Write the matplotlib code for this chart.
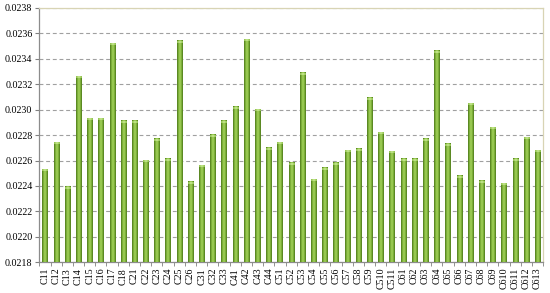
import numpy as np
import matplotlib
matplotlib.use('Agg')
import matplotlib.pyplot as plt
from matplotlib.colors import LinearSegmentedColormap

plt.rcParams['font.family'] = ['Liberation Serif', 'DejaVu Serif']

# categories and values
labels = ['C11', 'C12', 'C13', 'C14', 'C15', 'C16', 'C17', 'C18',
          'C21', 'C22', 'C23', 'C24', 'C25', 'C26',
          'C31', 'C32', 'C33',
          'C41', 'C42', 'C43', 'C44',
          'C51', 'C52', 'C53', 'C54', 'C55', 'C56', 'C57', 'C58', 'C59', 'C510', 'C511',
          'C61', 'C62', 'C63', 'C64', 'C65', 'C66', 'C67', 'C68', 'C69', 'C610', 'C611', 'C612', 'C613']
values = [0.02253, 0.02274, 0.02239, 0.02326, 0.02293, 0.02293, 0.02352, 0.02291,
          0.02291, 0.02260, 0.02277, 0.02261, 0.02354, 0.02243,
          0.02256, 0.02280, 0.02291,
          0.02302, 0.02355, 0.02300, 0.02270,
          0.02274, 0.02258, 0.02329, 0.02245, 0.02254, 0.02258, 0.02268, 0.02269, 0.02309, 0.02282, 0.02267,
          0.02261, 0.02261, 0.02277, 0.02346, 0.02273, 0.02248, 0.02305, 0.02244, 0.02286, 0.02242, 0.02261, 0.02278, 0.02268]
ymin, ymax = 0.0218, 0.0238

fig = plt.figure(figsize=(5.5, 2.93), dpi=100)
ax = fig.add_axes([0.0715, 0.105, 0.916, 0.868])

x = np.arange(len(labels))
w = 0.46

# green cylinder-like gradient across each bar
cmap = LinearSegmentedColormap.from_list('g', ['#4a7518', '#7fb33a', '#a6d45e', '#7fb33a', '#4a7518'])
capmap = LinearSegmentedColormap.from_list('c', ['#8cbf4a', '#c8e890', '#8cbf4a'])
grad = np.linspace(0, 1, 64).reshape(1, -1)
for xi, v in zip(x, values):
    ax.imshow(grad, cmap=cmap, aspect='auto', extent=(xi - w / 2, xi + w / 2, ymin, v),
              zorder=3, interpolation='bilinear')
    # lighter cap on top
    ax.imshow(grad, cmap=capmap, aspect='auto', extent=(xi - w / 2, xi + w / 2, v - 0.000014, v),
              zorder=4, interpolation='bilinear')

ax.set_xlim(-0.5, len(labels) - 0.5)
ax.set_ylim(ymin, ymax)
yt = np.arange(ymin, ymax + 1e-7, 0.0002)
ax.set_yticks(yt)
ax.set_yticklabels([f'{t:.4f}' for t in yt], fontsize=7.2)
ax.set_xticks(x)
ax.set_xticklabels(labels, rotation=90, fontsize=7.2)
ax.set_xticks(np.arange(-0.5, len(labels)), minor=True)
ax.tick_params(axis='x', which='major', length=0, pad=4)
ax.tick_params(axis='x', which='minor', length=3, color='#808080', direction='out')
ax.tick_params(axis='y', length=3, color='#808080', direction='out', pad=2)

ax.grid(axis='y', color='#a0a0a0', linestyle=(0, (3.5, 2.5)), linewidth=0.8, zorder=1)
ax.set_axisbelow(True)

for s in ['top', 'right']:
    ax.spines[s].set_color('#d8d4b4')
    ax.spines[s].set_linewidth(0.9)
for s in ['left', 'bottom']:
    ax.spines[s].set_color('#8c8c8c')
    ax.spines[s].set_linewidth(0.9)

fig.savefig('out.png', dpi=100)
